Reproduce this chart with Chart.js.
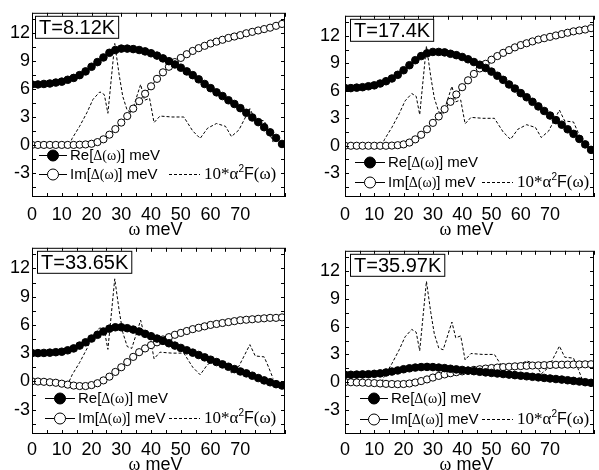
<!DOCTYPE html>
<html>
<head>
<meta charset="utf-8">
<script src="https://cdn.jsdelivr.net/npm/chart.js@4.4.1/dist/chart.umd.min.js"></script>
<style>
  body { margin: 0; background: #fff; }
  #wrap { position: relative; width: 599px; height: 470px; background: #fff; }
  #wrap canvas { position: absolute; }
</style>
</head>
<body>
<div id="wrap">
  <canvas id="c1" width="300" height="235" style="left:0;top:0"></canvas>
  <canvas id="c2" width="299" height="235" style="left:300px;top:0"></canvas>
  <canvas id="c3" width="300" height="235" style="left:0;top:235px"></canvas>
  <canvas id="c4" width="299" height="235" style="left:300px;top:235px"></canvas>
</div>
<script>
// omega grid (meV)
var omega = [0, 2, 4, 6, 8, 10, 12, 14, 16, 18, 20, 22, 24, 26, 28, 30, 32, 34, 36, 38, 40,
             42, 44, 46, 48, 50, 52, 54, 56, 58, 60, 62, 64, 66, 68, 70, 72, 74, 76, 78, 80, 82, 84];

// T = 8.12K
var re1 = [6.5, 6.5, 6.55, 6.6, 6.7, 6.8, 7.0, 7.2, 7.5, 7.9, 8.4, 8.9, 9.4, 9.9, 10.2, 10.35, 10.35, 10.3, 10.2, 10.05, 9.85,
           9.6, 9.3, 9.0, 8.65, 8.3, 7.9, 7.5, 7.05, 6.55, 6.1, 5.65, 5.25, 4.8, 4.4, 3.95, 3.45, 2.95, 2.45, 1.9, 1.35, 0.75, 0.1];
var im1 = [0, 0, 0, 0, 0, 0, 0, 0, 0.02, 0.05, 0.12, 0.3, 0.6, 1.1, 1.7, 2.4, 3.1, 3.9, 4.7, 5.5, 6.3,
           7.1, 7.8, 8.4, 8.9, 9.35, 9.75, 10.1, 10.4, 10.65, 10.9, 11.1, 11.3, 11.5, 11.65, 11.8, 12.0, 12.15, 12.3, 12.45, 12.6, 12.8, 13.0];

// T = 17.4K
var re2 = [6.3, 6.3, 6.35, 6.4, 6.5, 6.6, 6.8, 7.05, 7.35, 7.75, 8.25, 8.8, 9.35, 9.8, 10.1, 10.25, 10.25, 10.2, 10.05, 9.9, 9.7,
           9.45, 9.15, 8.85, 8.5, 8.1, 7.65, 7.2, 6.7, 6.25, 5.75, 5.3, 4.8, 4.3, 3.8, 3.3, 2.8, 2.3, 1.8, 1.3, 0.75, 0.15, -0.45];
var im2 = [0, 0, 0, 0, 0, 0, 0, 0, 0.02, 0.06, 0.15, 0.35, 0.7, 1.2, 1.8, 2.5, 3.2, 4.0, 4.8, 5.6, 6.4,
           7.15, 7.85, 8.45, 8.95, 9.4, 9.8, 10.15, 10.45, 10.75, 11.0, 11.2, 11.4, 11.6, 11.75, 11.9, 12.05, 12.2, 12.35, 12.5, 12.6, 12.7, 12.85];

// T = 33.65K
var re3 = [3.0, 3.0, 3.02, 3.05, 3.1, 3.15, 3.3, 3.5, 3.8, 4.15, 4.55, 4.95, 5.3, 5.6, 5.75, 5.75, 5.65, 5.5, 5.3, 5.05, 4.8,
           4.55, 4.3, 4.05, 3.8, 3.55, 3.3, 3.05, 2.8, 2.55, 2.3, 2.05, 1.8, 1.55, 1.3, 1.05, 0.85, 0.6, 0.35, 0.1, -0.1, -0.3, -0.45];
var im3 = [0, -0.02, -0.05, -0.1, -0.15, -0.25, -0.35, -0.45, -0.5, -0.5, -0.4, -0.2, 0.1, 0.5, 1.0, 1.5, 2.05, 2.6, 3.1, 3.5, 3.85,
           4.15, 4.45, 4.7, 4.95, 5.15, 5.35, 5.55, 5.7, 5.85, 6.0, 6.1, 6.2, 6.3, 6.4, 6.5, 6.55, 6.6, 6.65, 6.7, 6.75, 6.75, 6.8];

// T = 35.97K
var re4 = [0.8, 0.8, 0.82, 0.84, 0.86, 0.9, 0.95, 1.05, 1.15, 1.27, 1.4, 1.5, 1.58, 1.63, 1.65, 1.63, 1.58, 1.52, 1.45, 1.38, 1.32,
           1.25, 1.19, 1.12, 1.06, 1.0, 0.94, 0.88, 0.82, 0.76, 0.7, 0.64, 0.58, 0.52, 0.46, 0.4, 0.34, 0.28, 0.21, 0.14, 0.07, 0.0, -0.07];
var im4 = [0, -0.01, -0.03, -0.05, -0.08, -0.1, -0.14, -0.18, -0.2, -0.22, -0.2, -0.14, -0.03, 0.12, 0.3, 0.5, 0.68, 0.84, 0.97, 1.08, 1.17,
           1.25, 1.33, 1.4, 1.47, 1.53, 1.58, 1.63, 1.67, 1.71, 1.74, 1.77, 1.8, 1.82, 1.84, 1.86, 1.88, 1.89, 1.9, 1.91, 1.92, 1.93, 1.94];

// 10*a^2F(omega), same in every panel
var a2fX = [12.5, 13.5, 16, 18.5, 20.5, 22.8, 24.3, 25.5, 27.8, 29.3, 30.5, 32, 33.5, 36.5, 37.8, 39.5, 41, 43, 47, 51,
            54, 56.5, 59, 62, 65, 67, 69.5, 73.2, 75, 78, 79.5, 81];
var a2fY = [0, 0.7, 2.0, 3.5, 4.9, 5.7, 5.4, 3.4, 10.9, 7.5, 5.2, 3.7, 3.5, 6.5, 4.8, 5.0, 2.4, 3.1, 3.0, 3.0,
            1.5, 0.7, 1.8, 2.3, 2.0, 0.9, 1.6, 3.9, 2.7, 2.6, 1.5, 0.3];

var temps = ['T=8.12K', 'T=17.4K', 'T=33.65K', 'T=35.97K'];
var xTicks = [0, 10, 20, 30, 40, 50, 60, 70];
var yTicks = [-3, 0, 3, 6, 9, 12];

var SANS = '"Liberation Sans", Arial, sans-serif';
var NARROW = '"Liberation Sans Narrow", "Arial Narrow", "Liberation Sans", Arial, sans-serif';
var SERIF = '"Liberation Serif", "Times New Roman", serif';

function pairs(xs, ys) {
    return xs.map(function(x, i) { return {x: x, y: ys[i]}; });
}

function richText(ctx, x, y, parts) {
    parts.forEach(function(p) {
        ctx.font = p.f;
        ctx.fillText(p.t, x, y + (p.dy || 0));
        x += ctx.measureText(p.t).width;
    });
    return x;
}

function line(ctx, x1, y1, x2, y2) {
    ctx.beginPath();
    ctx.moveTo(x1, y1);
    ctx.lineTo(x2, y2);
    ctx.stroke();
}

var decor = {
    id: 'decor',
    afterDraw: function(chart, args, o) {
        var ctx = chart.ctx, a = chart.chartArea;
        var xs = chart.scales.x, ys = chart.scales.y;
        ctx.save();
        ctx.strokeStyle = '#000';
        ctx.fillStyle = '#000';
        ctx.lineWidth = 1;
        ctx.setLineDash([]);
        ctx.strokeRect(a.left + 0.5, a.top + 0.5, a.right - a.left - 1, a.bottom - a.top - 1);

        // inward ticks on all sides
        var v, p;
        for (v = 0; v <= 85; v += 5) {
            p = Math.round(xs.getPixelForValue(v)) + 0.5;
            line(ctx, p, a.bottom, p, a.bottom - 4);
            line(ctx, p, a.top, p, a.top + 4);
        }
        for (v = -4.5; v <= 13.5; v += 1.5) {
            p = Math.round(ys.getPixelForValue(v)) + 0.5;
            line(ctx, a.left, p, a.left + 4, p);
            line(ctx, a.right, p, a.right - 4, p);
        }

        // temperature box
        ctx.font = '20px ' + SANS;
        var tw = ctx.measureText(o.label).width;
        var bx = a.left + o.boxDx, by = a.top + 3;
        ctx.fillStyle = '#fff';
        ctx.fillRect(bx, by, tw + 8, 23);
        ctx.strokeRect(bx + 0.5, by + 0.5, tw + 7, 22);
        ctx.fillStyle = '#000';
        ctx.textBaseline = 'middle';
        ctx.fillText(o.label, bx + 4, by + 12.5);

        // legend
        var l = a.left, r1 = a.bottom - o.rows[0], r2 = a.bottom - o.rows[1];
        [[r1, '#000', 'Re['], [r2, '#fff', 'Im[']].forEach(function(e) {
            var y = e[0];
            line(ctx, l + o.mk[0], y + 0.5, l + o.mk[1], y + 0.5);
            ctx.beginPath();
            ctx.arc((l + o.mk[0] + l + o.mk[1]) / 2, y + 0.5, 5.5, 0, Math.PI * 2);
            ctx.fillStyle = e[1];
            ctx.fill();
            ctx.stroke();
            ctx.fillStyle = '#000';
            richText(ctx, l + o.mk[1] + 3, y + 1, [
                {t: e[2], f: '15px ' + SANS},
                {t: '\u0394(\u03c9)', f: '14px ' + SERIF},
                {t: '] meV', f: '15px ' + SANS}
            ]);
        });
        ctx.setLineDash([3, 2]);
        line(ctx, l + 137, r2 + 0.5, l + 168, r2 + 0.5);
        ctx.setLineDash([]);
        richText(ctx, l + 172, r2 + 1, [
            {t: '10*\u03b1', f: '17px ' + SERIF},
            {t: '2', f: '10px ' + SANS, dy: -6},
            {t: 'F', f: '16px ' + SANS},
            {t: '(\u03c9)', f: '17px ' + SERIF}
        ]);

        // x axis title
        ctx.font = '18px ' + SERIF;
        var w1 = ctx.measureText('\u03c9').width;
        ctx.font = '18px ' + SANS;
        var w2 = ctx.measureText(' meV').width;
        var cx = (a.left + a.right) / 2 - 3;
        richText(ctx, cx - (w1 + w2) / 2, o.titleY, [
            {t: '\u03c9', f: '18px ' + SERIF},
            {t: ' meV', f: '18px ' + SANS}
        ]);
        ctx.restore();
    }
};

function makePanel(id, re, im, opts) {
    var ctx = document.getElementById(id);
    return new Chart(ctx, {
        type: 'line',
        data: {
            datasets: [{
                label: 'Re',
                data: pairs(omega, re),
                borderColor: '#000',
                borderWidth: 1,
                pointRadius: 3.8,
                pointBackgroundColor: '#000',
                pointBorderColor: '#000',
                pointBorderWidth: 1,
                order: 1
            }, {
                label: 'Im',
                data: pairs(omega, im),
                borderColor: '#000',
                borderWidth: 1,
                pointRadius: 3.6,
                pointBackgroundColor: '#fff',
                pointBorderColor: '#000',
                pointBorderWidth: 1,
                order: 2
            }, {
                label: 'a2F',
                data: pairs(a2fX, a2fY),
                borderColor: '#000',
                borderWidth: 1,
                borderDash: [3, 2],
                pointRadius: 0,
                order: 3
            }]
        },
        options: {
            responsive: false,
            animation: false,
            layout: {padding: opts.pad},
            plugins: {
                legend: {display: false},
                tooltip: {enabled: false},
                decor: opts.decor
            },
            scales: {
                x: {
                    type: 'linear',
                    min: 0,
                    max: 85,
                    border: {display: false},
                    grid: {display: false, drawTicks: false},
                    ticks: {color: '#000', font: {family: NARROW, size: 18}, padding: opts.xPad, maxRotation: 0, autoSkip: false},
                    afterBuildTicks: function(s) { s.ticks = xTicks.map(function(v) { return {value: v}; }); },
                    afterFit: function(s) { s.height = opts.xh; }
                },
                y: {
                    min: -5.6,
                    max: 14.2,
                    border: {display: false},
                    grid: {display: false, drawTicks: false},
                    ticks: {color: '#000', font: {family: NARROW, size: 18}, padding: opts.yPad},
                    afterBuildTicks: function(s) { s.ticks = yTicks.map(function(v) { return {value: v}; }); },
                    afterFit: function(s) { s.width = opts.yw; }
                }
            }
        },
        plugins: [decor]
    });
}

makePanel('c1', re1, im1, {
    pad: {left: 0, top: 7, right: 15, bottom: 0}, xh: 38, yw: 32, xPad: 7, yPad: 2,
    decor: {label: temps[0], boxDx: 3, rows: [42, 23], mk: [7, 35], titleY: 230}
});
makePanel('c2', re2, im2, {
    pad: {left: 0, top: 7, right: 1, bottom: 0}, xh: 38, yw: 45, xPad: 7, yPad: 5,
    decor: {label: temps[1], boxDx: 5, rows: [35, 15], mk: [10, 40], titleY: 230}
});
makePanel('c3', re3, im3, {
    pad: {left: 0, top: 5, right: 15, bottom: 0}, xh: 36, yw: 32, xPad: 5, yPad: 2,
    decor: {label: temps[2], boxDx: 5, rows: [36, 16], mk: [13, 43], titleY: 230}
});
makePanel('c4', re4, im4, {
    pad: {left: 0, top: 5, right: 1, bottom: 0}, xh: 36, yw: 45, xPad: 5, yPad: 5,
    decor: {label: temps[3], boxDx: 5, rows: [36, 15], mk: [15, 43], titleY: 230}
});
</script>
</body>
</html>
